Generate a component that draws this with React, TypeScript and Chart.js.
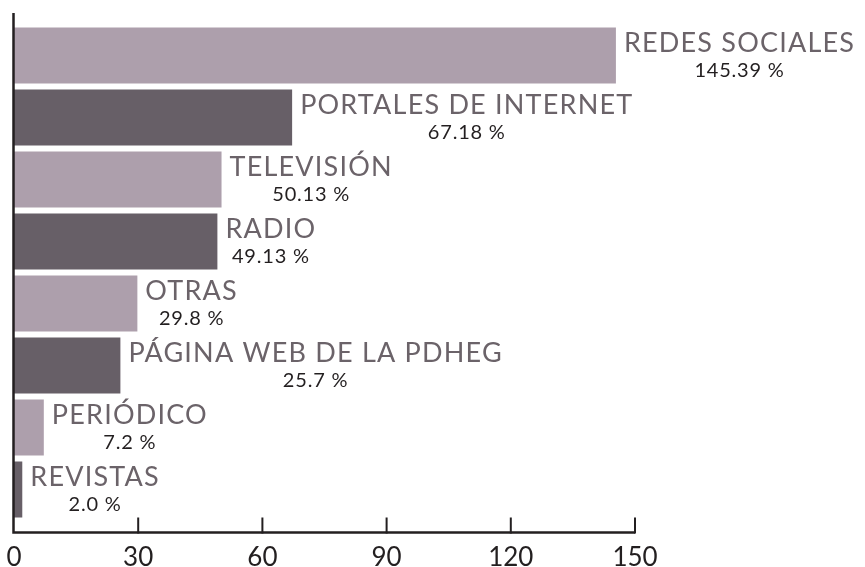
import React, { useEffect, useRef } from "react";
import { Chart, registerables } from "chart.js";

Chart.register(...registerables);

const categories = [
  "REDES SOCIALES",
  "PORTALES DE INTERNET",
  "TELEVISIÓN",
  "RADIO",
  "OTRAS",
  "PÁGINA WEB DE LA PDHEG",
  "PERIÓDICO",
  "REVISTAS",
];
const values = [145.39, 67.18, 50.13, 49.13, 29.8, 25.7, 7.2, 2.0];
const valueLabels = ["145.39 %", "67.18 %", "50.13 %", "49.13 %", "29.8 %", "25.7 %", "7.2 %", "2.0 %"];
const xTicks = [0, 30, 60, 90, 120, 150];
const barColors = ["#ad9fac", "#675f67"];

const FONT = "Lato";
const CAT_FONT = `27px ${FONT}`;
const VAL_FONT = `20px ${FONT}`;

const labelPlugin = {
  id: "barLabels",
  afterDatasetsDraw(chart: any) {
    const ctx = chart.ctx;
    const meta = chart.getDatasetMeta(0);
    ctx.save();
    meta.data.forEach((bar: any, i: number) => {
      const x = bar.x + 8;
      const y = bar.y;
      ctx.font = CAT_FONT;
      (ctx as any).letterSpacing = "1.2px";
      ctx.fillStyle = "#6b6369";
      ctx.textAlign = "left";
      ctx.textBaseline = "middle";
      ctx.fillText(categories[i], x, y - 12);
      const w = ctx.measureText(categories[i]).width;
      ctx.font = VAL_FONT;
      (ctx as any).letterSpacing = "0.8px";
      ctx.fillStyle = "#231f20";
      ctx.textAlign = "center";
      ctx.fillText(valueLabels[i], x + w / 2, y + 15);
    });
    (ctx as any).letterSpacing = "0px";
    ctx.restore();
  },
  afterDraw(chart: any) {
    const ctx = chart.ctx;
    const xs = chart.scales.x;
    const area = chart.chartArea;
    const axisY = area.bottom + 12;
    const x0 = xs.getPixelForValue(0) - 0.5;
    ctx.save();
    ctx.strokeStyle = "#231f20";
    ctx.lineWidth = 2.5;
    ctx.beginPath();
    ctx.moveTo(x0, area.top - 11.5);
    ctx.lineTo(x0, axisY);
    ctx.lineTo(xs.getPixelForValue(xTicks[xTicks.length - 1]), axisY);
    ctx.stroke();
    ctx.lineWidth = 2;
    xTicks.forEach((t) => {
      if (t === 0) return;
      const px = xs.getPixelForValue(t);
      ctx.beginPath();
      ctx.moveTo(px, axisY + 1);
      ctx.lineTo(px, axisY - 15);
      ctx.stroke();
    });
    ctx.restore();
  },
};

export default function App() {
  const ref = useRef<HTMLCanvasElement | null>(null);
  useEffect(() => {
    document.body.style.margin = "0";
    const chart = new Chart(ref.current!, {
      type: "bar",
      data: {
        labels: categories,
        datasets: [
          {
            data: values,
            backgroundColor: values.map((_, i) => barColors[i % 2]),
            borderWidth: 0,
            barPercentage: 0.9,
            categoryPercentage: 1,
          },
        ],
      },
      options: {
        indexAxis: "y",
        animation: false,
        responsive: false,
        layout: { padding: { left: 14, right: 230, top: 24.5, bottom: 0 } },
        plugins: { legend: { display: false }, tooltip: { enabled: false } },
        scales: {
          x: {
            type: "linear",
            min: 0,
            max: 150,
            afterBuildTicks: (scale: any) => {
              scale.ticks = xTicks.map((v) => ({ value: v }));
            },
            afterFit: (scale: any) => {
              scale.height = 46.5;
              scale.paddingLeft = 0;
              scale.paddingRight = 0;
            },
            grid: { display: false, drawTicks: false },
            border: { display: false },
            ticks: {
              padding: 22,
              color: "#231f20",
              font: { family: FONT, size: 26 },
              maxRotation: 0,
            },
          },
          y: {
            display: false,
          },
        },
      },
      plugins: [labelPlugin],
    });
    return () => chart.destroy();
  }, []);
  return (
    <div style={{ width: 865, height: 567 }}>
      <canvas ref={ref} width={865} height={567} style={{ display: "block" }} />
    </div>
  );
}
